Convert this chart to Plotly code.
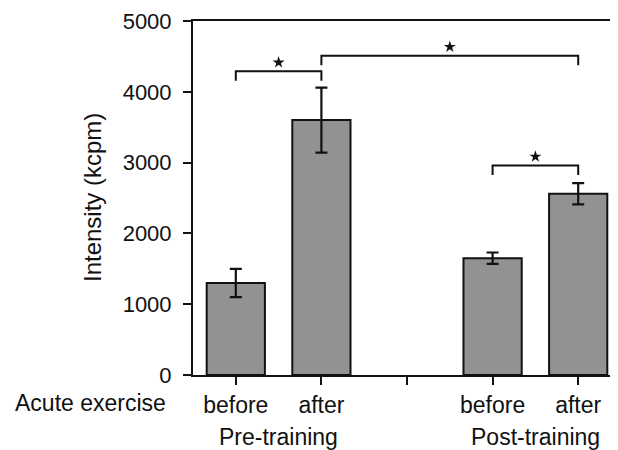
import plotly.graph_objects as go

# Data
positions = [0, 1, 3, 4]
tick_positions = [0, 1, 2, 3, 4]
tick_labels = ["before", "after", "", "before", "after"]
values = [1300, 3600, 1650, 2560]
errors = [200, 460, 80, 150]
group_labels = ["Pre-training", "Post-training"]
group_centers = [0.5, 3.5]
sig_left = [0, 1, 3]
sig_right = [1, 4, 4]
sig_heights = [4290, 4510, 2960]
sig_drop = 135
star_gap = 125
y_ticks = [0, 1000, 2000, 3000, 4000, 5000]

FONT = "Liberation Sans, Arial, sans-serif"
FS = 22
FS_TXT = 23
INK = "#111111"

fig = go.Figure()
fig.add_trace(go.Bar(
    x=positions, y=values, width=0.68,
    marker=dict(color="#929292", line=dict(color=INK, width=2)),
    error_y=dict(type="data", array=errors, visible=True, color=INK,
                 thickness=2.2, width=6),
    showlegend=False,
))

for xl, xr, h in zip(sig_left, sig_right, sig_heights):
    fig.add_trace(go.Scatter(
        x=[xl, xl, xr, xr], y=[h - sig_drop, h, h, h - sig_drop],
        mode="lines", line=dict(color=INK, width=2),
        showlegend=False, hoverinfo="skip",
    ))
fig.add_trace(go.Scatter(
    x=[(l + r) / 2 for l, r in zip(sig_left, sig_right)],
    y=[h + star_gap for h in sig_heights],
    mode="markers", marker=dict(symbol="star", size=9, color=INK,
                                line=dict(width=0)),
    showlegend=False, hoverinfo="skip",
))

fig.add_annotation(xref="paper", yref="paper", x=-0.058, y=0, yshift=-28,
                   xanchor="right", yanchor="middle", text="Acute exercise",
                   showarrow=False, font=dict(size=FS_TXT, color=INK, family=FONT))
for lbl, c in zip(group_labels, group_centers):
    fig.add_annotation(xref="x", yref="paper", x=c, y=0, yshift=-62,
                       xanchor="center", yanchor="middle", text=lbl,
                       showarrow=False, font=dict(size=FS_TXT, color=INK, family=FONT))
fig.add_annotation(xref="paper", yref="paper", x=-0.2376, y=0.5,
                   xanchor="center", yanchor="middle", textangle=-90,
                   text="Intensity (kcpm)", showarrow=False,
                   font=dict(size=24, color=INK, family=FONT))

# page body has an 8px margin: compensate so the plot lands where the reference has it
fig.update_layout(
    width=610, height=442,
    margin=dict(l=185, r=0, t=13, b=75),
    paper_bgcolor="white", plot_bgcolor="white",
    font=dict(family=FONT, size=FS, color=INK),
    xaxis=dict(range=[-0.5, 4.465], tickvals=tick_positions, ticktext=tick_labels,
               tickfont=dict(size=FS_TXT),
               ticks="outside", ticklen=8, tickwidth=2, tickcolor=INK,
               showline=True, linecolor=INK, linewidth=2, mirror=True,
               showgrid=False, zeroline=False, fixedrange=True),
    yaxis=dict(range=[0, 5000], tickvals=y_ticks, ticklabelstandoff=7,
               ticks="outside", ticklen=8, tickwidth=2, tickcolor=INK,
               showline=True, linecolor=INK, linewidth=2,
               showgrid=False, zeroline=False, fixedrange=True),
)

fig.write_html("out.html")
